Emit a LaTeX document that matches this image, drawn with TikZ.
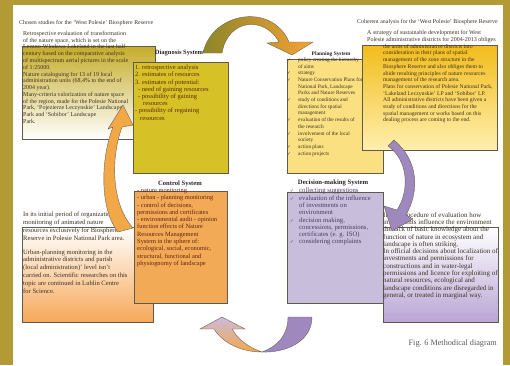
\documentclass[tikz,border=0pt]{standalone}
\usepackage{fontspec}
\setmainfont{Liberation Serif}
\newfontfamily\chkfont{DejaVu Sans}
\definecolor{framegold}{RGB}{178,155,52}
\definecolor{boxedge}{RGB}{95,90,80}
\definecolor{oliveA}{RGB}{198,172,42}
\definecolor{diagfill}{RGB}{214,194,38}
\definecolor{planfill}{RGB}{250,224,128}
\definecolor{goldA}{RGB}{242,188,28}
\definecolor{goldB}{RGB}{255,240,175}
\definecolor{ctrlfill}{RGB}{243,170,86}
\definecolor{decfill}{RGB}{200,190,220}
\definecolor{orangeB}{RGB}{246,168,88}
\definecolor{lilacA}{RGB}{204,186,222}
\definecolor{lilacB}{RGB}{185,165,212}
\definecolor{archA}{RGB}{140,134,40}
\definecolor{archM}{RGB}{196,170,48}
\definecolor{archB}{RGB}{246,162,52}
\definecolor{arrowedge}{RGB}{110,100,90}
\definecolor{orarrow}{RGB}{243,168,72}
\definecolor{purarrow}{RGB}{158,136,190}
\definecolor{textdark}{RGB}{60,50,35}
\definecolor{diagtext}{RGB}{95,35,15}
\definecolor{dectext}{RGB}{75,60,95}
\definecolor{captgray}{RGB}{90,90,90}
\newcommand{\setfs}[2]{\fontsize{#1}{#2}\selectfont}
\newcommand{\chk}{{\chkfont\fontsize{4.5}{5}\selectfont ✓}}

\begin{document}
\begin{tikzpicture}[x=1pt, y=-1pt, sysbox/.style={draw=boxedge, line width=0.5pt, anchor=north west, inner sep=0pt}, txt/.style={anchor=north west, inner sep=0pt, align=left, text=textdark}, systitle/.style={inner sep=0pt, font=\bfseries, text=black!85}, blockarrow/.style={draw=arrowedge, line width=0.4pt}]
\useasboundingbox (0,0) rectangle (510,365);
\fill [white] (0,0) rectangle (510,365);
\fill [framegold] (0,0) rectangle (13,365);
\fill [framegold] (0,0) rectangle (510,5);
\fill [framegold] (503,0) rectangle (510,365);

\node [sysbox, top color=oliveA, bottom color=white, minimum width=133pt, minimum height=93pt] (chosenbox) at (22,46) {};
\node [sysbox, fill=diagfill, minimum width=95pt, minimum height=111pt] (diagbox) at (133,62) {};
\node [sysbox, fill=planfill, minimum width=96pt, minimum height=114pt] (planbox) at (287,59) {};
\node [sysbox, top color=goldA, bottom color=goldB, minimum width=135pt, minimum height=105pt] (coherentbox) at (362,45) {};
\node [sysbox, top color=white, bottom color=orangeB, minimum width=131pt, minimum height=95pt] (initbox) at (22,227) {};
\node [sysbox, fill=ctrlfill, minimum width=93pt, minimum height=112pt] (ctrlbox) at (134,191) {};
\node [sysbox, fill=decfill, minimum width=96pt, minimum height=111pt] (decbox) at (287,192) {};
\node [sysbox, top color=white, bottom color=lilacB, minimum width=115pt, minimum height=95pt] (procbox) at (383,227) {};

\node [txt, font=\setfs{5.9}{7}] (chosentitle) at (19,20) {Chosen studies for the `West Polesie' Biosphere Reserve};
\node [txt, font=\setfs{6}{6.77}] (chosentext) at (23,31) {Retrospective evaluation of transformation\\ of the nature space, which is set on the\\ Leczno-Wlodawa Lakeland in the last half-\\ century based on the comparative analysis\\ of multispectrum aerial pictures in the scale\\ of 1:25000.\\ Nature cataloguing for 13 of 19 local\\ administration units (68,4\% to the end of\\ 2004 year).\\ Many-criteria valorization of nature space\\ of the region, made for the Polesie National\\ Park, `Pojezierze Leczynskie' Landscape\\ Park and `Sobibor' Landscape\\ Park.};

\node [systitle, font=\setfs{6.5}{7}\bfseries] (diagtitle) at (179,53) {Diagnosis System};
\node [txt, text=diagtext, font=\setfs{6.5}{7.2}] (diagtext) at (135,65) {1. retrospective analysis\\ 2. estimates of resources\\ 3. estimates of potential:\\ \hspace*{3pt}- need of gaining resources\\ \hspace*{3pt}- possibility of gaining\\ \hspace*{8pt}resources\\ - possibility of regaining\\ \hspace*{5pt}resources};

\node [systitle, font=\setfs{5.4}{7}\bfseries] (plantitle) at (331,54) {Planning System};
\node [txt, font=\setfs{5.3}{6.7}] (plantext) at (287,57.5) {\makebox[11pt][l]{\chk}policy creating the hierarchy\\ \hspace*{11pt}of aims\\ \makebox[11pt][l]{\chk}strategy\\ \makebox[11pt][l]{\chk}Nature Conservation Plans for\\ \hspace*{11pt}National Park, Landscape\\ \hspace*{11pt}Parks and Nature Reserves\\ \makebox[11pt][l]{\chk}study of conditions and\\ \hspace*{11pt}directions for spatial\\ \hspace*{11pt}management\\ \makebox[11pt][l]{\chk}evaluation of the results of\\ \hspace*{11pt}the research\\ \makebox[11pt][l]{\chk}involvement of the local\\ \hspace*{11pt}society\\ \makebox[11pt][l]{\chk}action plans\\ \makebox[11pt][l]{\chk}action projects};

\node [txt, font=\setfs{5.9}{7}] (coherenttitle) at (357,19) {Coherent analysis for the `West Polesie' Biosphere Reserve};
\node [txt, font=\setfs{6}{7}] (strategytext) at (367,30) {A strategy of sustainable development for West\\ Polesie administrative districts for 2004-2013 obliges};
\node [txt, font=\setfs{5.7}{6.7}] (coherenttext) at (383,44) {the units of administrative districts into\\ consideration in their plans of spatial\\ management of the zone structure in the\\ Biosphere Reserve and also obliges them to\\ abide resulting principles of nature resources\\ management of the research area.\\ Plans for conservation of Polesie National Park,\\ `Lakeland Leczynskie' LP and `Sobibor' LP.\\ All administrative districts have been given a\\ study of conditions and directions for the\\ spatial management or works based on this\\ dealing process are coming to the end.};

\node [systitle, font=\setfs{6.6}{7}\bfseries] (ctrltitle) at (180,184) {Control System};
\node [txt, text=diagtext, font=\setfs{6.4}{7.3}] (ctrltext) at (137,188) {- nature monitoring\\ - urban - planning monitoring\\ - control of decisions,\\ permissions and certificates\\ - environmental audit - opinion\\ function effects of Nature\\ Resources Management\\ System in the sphere of:\\ ecological, social, economic,\\ structural, functional and\\ physiognomy of landscape};

\node [systitle, font=\setfs{6.7}{7}\bfseries] (dectitle) at (333,183) {Decision-making System};
\node [txt, text=dectext, font=\setfs{6.7}{7.3}] (dectext) at (290,188) {\makebox[9pt][l]{\chk}collecting suggestions\\ \makebox[9pt][l]{\chk}evaluation of the influence\\ \hspace*{9pt}of investments on\\ \hspace*{9pt}environment\\ \makebox[9pt][l]{\chk}decision making,\\ \hspace*{9pt}concessions, permissions,\\ \hspace*{9pt}certificates (e. g. ISO)\\ \makebox[9pt][l]{\chk}considering complaints};

\node [txt, font=\setfs{6.6}{7.8}] (inittext) at (23,212) {In its initial period of organization\\ monitoring of animated nature\\ resources exclusively for Biosphere\\ Reserve in Polesie National Park area.\\[6pt] Urban-planning monitoring in the\\ administrative districts and parish\\ (local administration)' level isn't\\ carried on. Scientific researches on this\\ topic are continued in Lublin Centre\\ for Science.};

\node [txt, font=\setfs{7}{7.3}] (proctext) at (383,212) {In the procedure of evaluation how\\ investments influence the environment\\ the lack of basic knowledge about the\\ function of nature in ecosystem and\\ landscape is often striking.\\ In official decisions about localization of\\ investments and permissions for\\ constructions and in water-legal\\ permissions and licence for exploiting of\\ natural resources, ecological and\\ landscape conditions are disregarded in\\ general, or treated in marginal way.};

\node [anchor=base east, inner sep=0pt, text=captgray, font=\setfs{8.2}{9}] (figcaption) at (497,345) {Fig. 6 Methodical diagram};

% block arrows between the systems
\shade [blockarrow, left color=archA, middle color=archM, right color=archB] (203,53) .. controls (212,12) and (272,2) .. (289,42) -- (313,42) -- (292,55) -- (267,43) -- (279,42) .. controls (265,16) and (228,18) .. (222,53) -- cycle;
\fill [blockarrow, fill=purarrow] (394,140) .. controls (418,160) and (420,190) .. (406,215) -- (413,219) -- (392,231) -- (384,206) -- (397,210) .. controls (410,190) and (408,160) .. (388,146) -- cycle;
\fill [blockarrow, fill=purarrow] (312,317) .. controls (312,342) and (285,353) .. (262,352) .. controls (278,346) and (288,335) .. (288,317) -- cycle;
\shade [blockarrow, top color=lilacA, bottom color=orarrow] (262,352) .. controls (240,352) and (222,342) .. (214,329) -- (200,329) -- (222,317) -- (245,329) -- (232,329) .. controls (238,340) and (250,348) .. (262,352) -- cycle;
\fill [blockarrow, fill=orarrow] (118,232) .. controls (100,210) and (100,160) .. (113,127) -- (108,129) -- (123,105) -- (133,125) -- (122,127) .. controls (110,160) and (112,205) .. (133,228) -- cycle;
\end{tikzpicture}
\end{document}
